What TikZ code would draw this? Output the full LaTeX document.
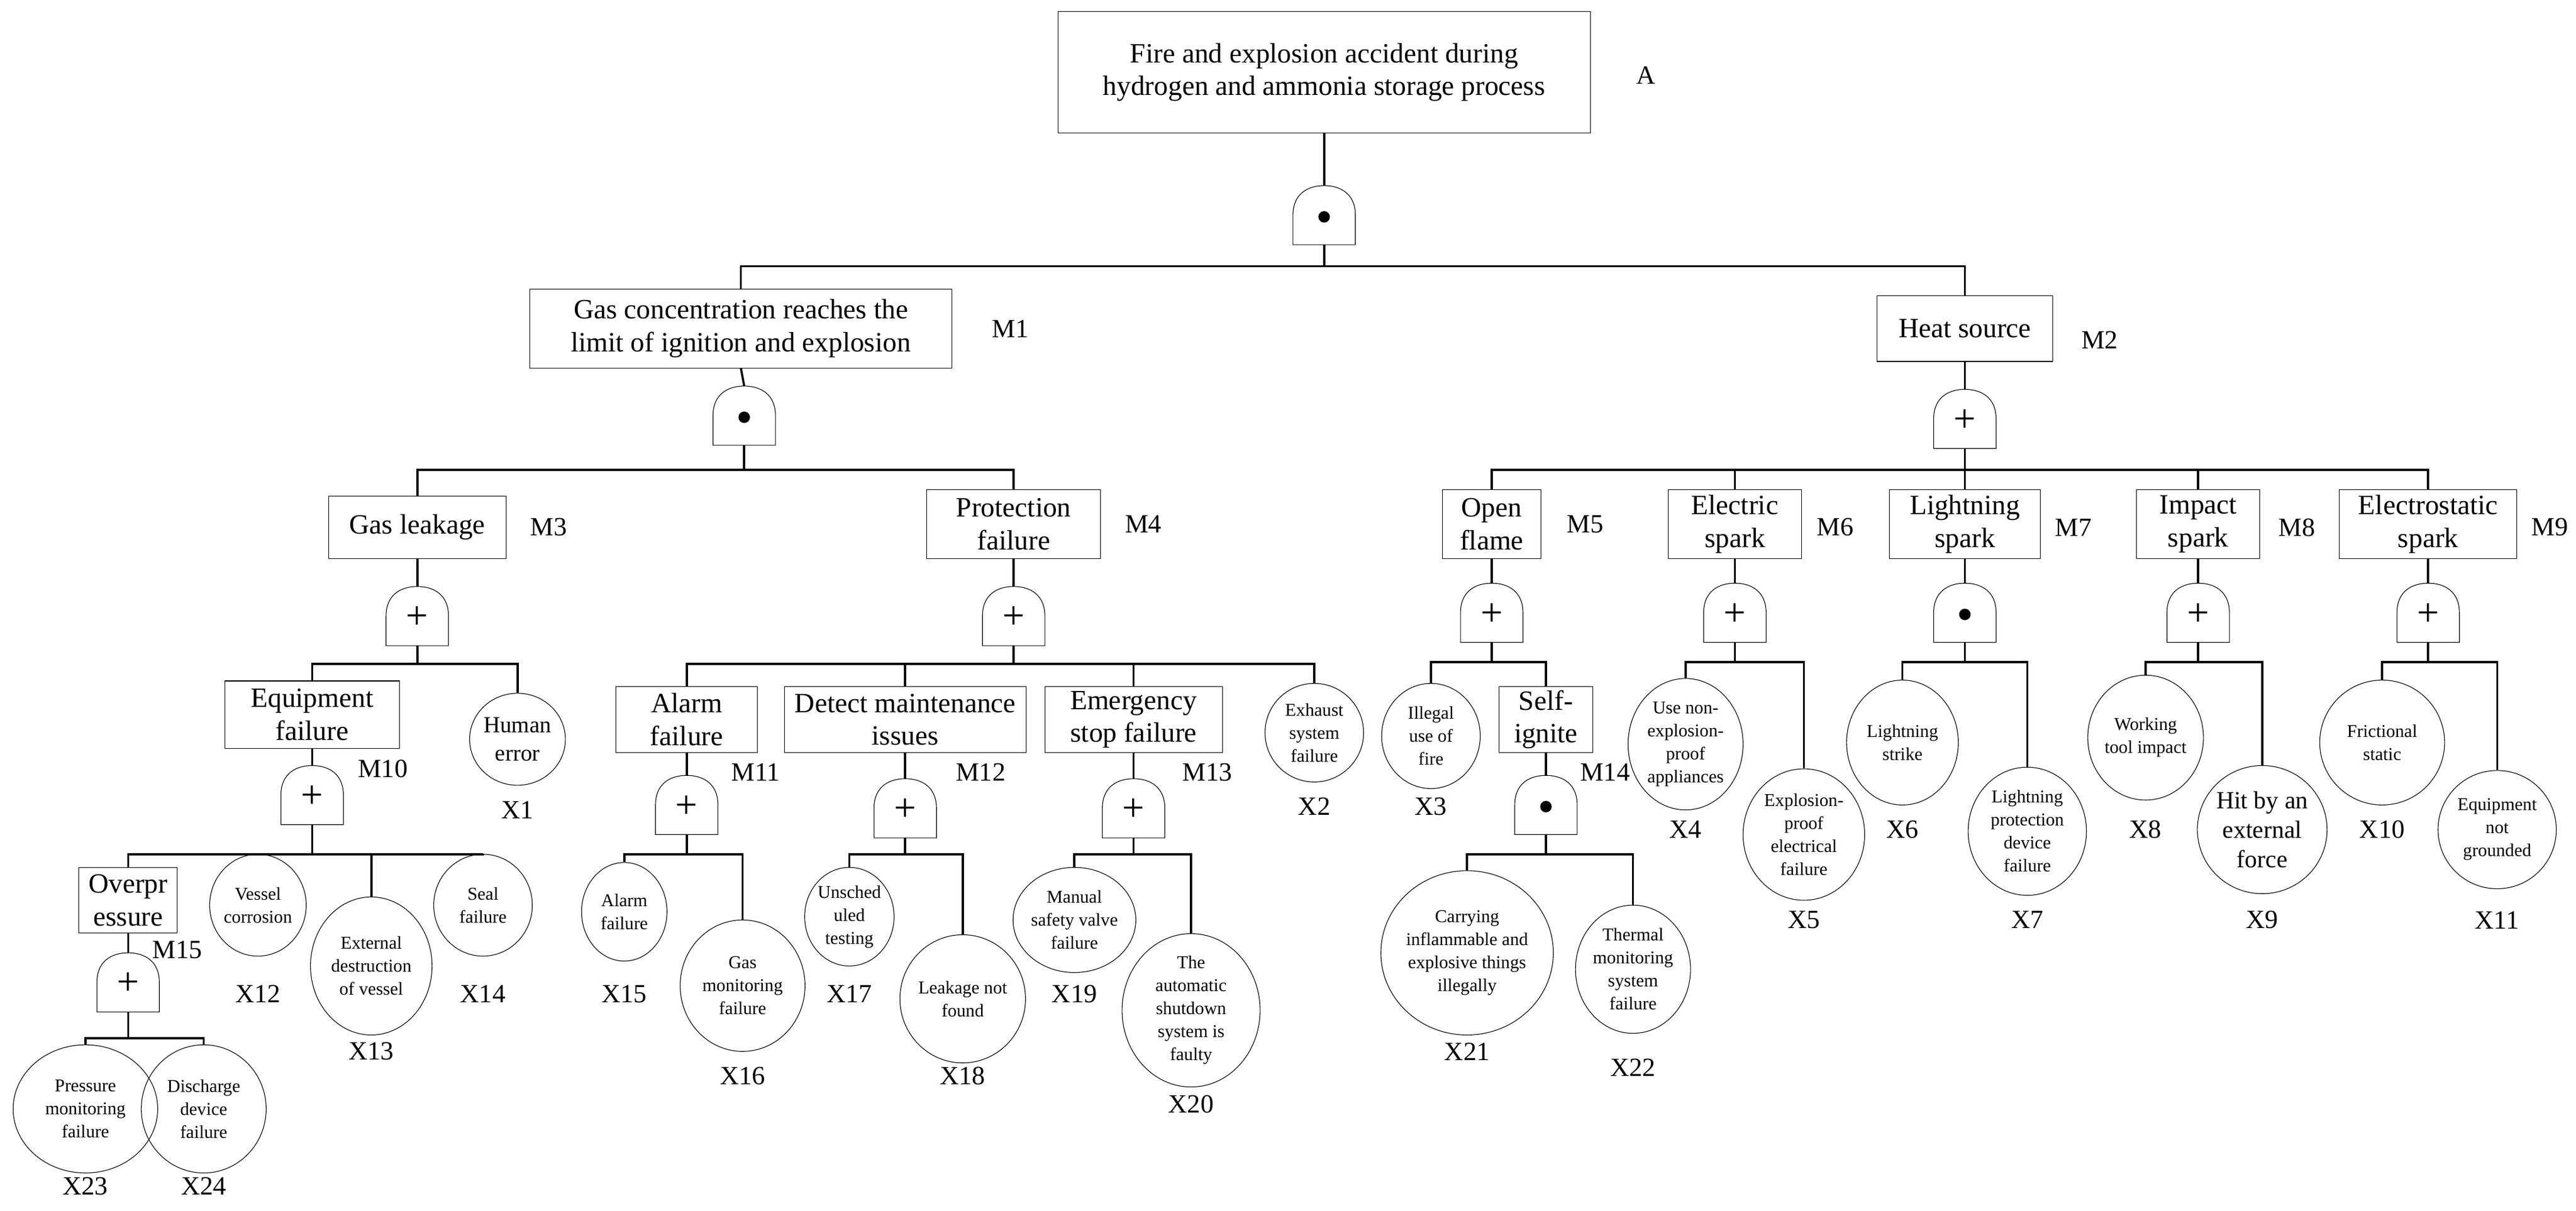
\documentclass[tikz,border=0pt]{standalone}
\usepackage{fontspec}
\setmainfont{Liberation Serif}
\usetikzlibrary{shapes.geometric}

\tikzset{
  event/.style={rectangle,draw,thin,align=center,inner sep=2pt,font=\fontsize{17}{20}\selectfont},
  basic/.style={ellipse,draw,thin,align=center,inner sep=0pt,font=\fontsize{11}{14}\selectfont},
  tag/.style={font=\fontsize{16}{18}\selectfont},
  link/.style={line width=1.3pt},
  gate line/.style={thin}
}
% gate outline: name, x, top y
\newcommand\gateshape[3]{%
  \draw[gate line] (#2-19,#3+36) -- (#2-19,#3+18) .. controls (#2-19,#3+5) and (#2-10,#3) .. (#2,#3)
    .. controls (#2+10,#3) and (#2+19,#3+5) .. (#2+19,#3+18) -- (#2+19,#3+36) -- cycle;
  \coordinate (#1) at (#2,#3);
  \coordinate (#1b) at (#2,#3+36);}
\newcommand\andgate[3]{\gateshape{#1}{#2}{#3}\fill (#2,#3+19) circle (3.5);}
\newcommand\orgate[3]{\gateshape{#1}{#2}{#3}\node[font=\fontsize{24}{24}\selectfont] at (#2,#3+19) {+};}

\begin{document}
\begin{tikzpicture}[x=1pt,y=-1pt]
  \useasboundingbox (0,0) rectangle (1568,737);
  % top event
  \node[event,minimum width=324,minimum height=74] (A) at (806,44) {Fire and explosion accident during\\hydrogen and ammonia storage process};
  \node[tag] (tA) at (1002,46) {A};
  \andgate{g0}{806}{113}
  % second level
  \node[event,minimum width=257,minimum height=48] (M1) at (451,200) {Gas concentration reaches the\\limit of ignition and explosion};
  \node[tag] (tM1) at (615,200) {M1};
  \node[event,minimum width=107,minimum height=40] (M2) at (1196,200) {Heat source};
  \node[tag] (tM2) at (1278,207) {M2};
  \andgate{g1}{453}{235}
  \orgate{g2}{1196}{237}
  % third level
  \node[event,minimum width=108,minimum height=38] (M3) at (254,321) {Gas leakage};
  \node[tag] (tM3) at (334,321) {M3};
  \node[event,minimum width=106,minimum height=42] (M4) at (617,319) {Protection\\failure};
  \node[tag] (tM4) at (696,319) {M4};
  \node[event,minimum width=60,minimum height=42] (M5) at (908,319) {Open\\flame};
  \node[tag] (tM5) at (965,319) {M5};
  \node[event,minimum width=81,minimum height=42] (M6) at (1056,319) {Electric\\spark};
  \node[tag] (tM6) at (1117,321) {M6};
  \node[event,minimum width=92,minimum height=42] (M7) at (1196,319) {Lightning\\spark};
  \node[tag] (tM7) at (1262,321) {M7};
  \node[event,minimum width=75,minimum height=42] (M8) at (1338,319) {Impact\\spark};
  \node[tag] (tM8) at (1398,321) {M8};
  \node[event,minimum width=108,minimum height=42] (M9) at (1478,319) {Electrostatic\\spark};
  \node[tag] (tM9) at (1552,321) {M9};
  \orgate{g3}{254}{357}
  \orgate{g4}{617}{357}
  \orgate{g5}{908}{355}
  \orgate{g6}{1056}{355}
  \andgate{g7}{1196}{355}
  \orgate{g8}{1338}{355}
  \orgate{g9}{1478}{355}
  % fourth level, left
  \node[event,minimum width=106,minimum height=41] (M10) at (190,435) {Equipment\\failure};
  \node[tag] (tM10) at (233,468) {M10};
  \node[basic,minimum width=54,minimum height=56,font=\fontsize{14}{17}\selectfont] (X1) at (315,450) {Human\\error};
  \node[tag] (tX1) at (315,493) {X1};
  \orgate{g10}{190}{466}
  \node[event,minimum width=60,minimum height=40] (M15) at (78,548) {Overpr\\essure};
  \node[tag] (tM15) at (108,578) {M15};
  \node[basic,minimum width=56,minimum height=62] (X12) at (157,551) {Vessel\\corrosion};
  \node[tag] (tX12) at (157,605) {X12};
  \node[basic,minimum width=74,minimum height=84] (X13) at (226,588) {External\\destruction\\of vessel};
  \node[tag] (tX13) at (226,640) {X13};
  \node[basic,minimum width=60,minimum height=62] (X14) at (294,551) {Seal\\failure};
  \node[tag] (tX14) at (294,605) {X14};
  \orgate{g15}{78}{580}
  \node[basic,minimum width=88,minimum height=78] (X23) at (52,675) {Pressure\\monitoring\\failure};
  \node[tag] (tX23) at (52,722) {X23};
  \node[basic,minimum width=76,minimum height=78] (X24) at (124,675) {Discharge\\device\\failure};
  \node[tag] (tX24) at (124,722) {X24};
  % fourth level, protection
  \node[event,minimum width=86,minimum height=40] (M11) at (418,438) {Alarm\\failure};
  \node[tag] (tM11) at (460,470) {M11};
  \node[event,minimum width=147,minimum height=40] (M12) at (551,438) {Detect maintenance\\issues};
  \node[tag] (tM12) at (597,470) {M12};
  \node[event,minimum width=108,minimum height=40] (M13) at (690,438) {Emergency\\stop failure};
  \node[tag] (tM13) at (735,470) {M13};
  \node[basic,minimum width=60,minimum height=60] (X2) at (800,446) {Exhaust\\system\\failure};
  \node[tag] (tX2) at (800,491) {X2};
  \orgate{g11}{418}{472}
  \orgate{g12}{551}{474}
  \orgate{g13}{690}{474}
  \node[basic,minimum width=52,minimum height=60] (X15) at (380,555) {Alarm\\failure};
  \node[tag] (tX15) at (380,605) {X15};
  \node[basic,minimum width=76,minimum height=80] (X16) at (452,600) {Gas\\monitoring\\failure};
  \node[tag] (tX16) at (452,655) {X16};
  \node[basic,minimum width=54,minimum height=60] (X17) at (517,558) {Unsched\\uled\\testing};
  \node[tag] (tX17) at (517,605) {X17};
  \node[basic,minimum width=76,minimum height=78] (X18) at (586,608) {Leakage not\\found};
  \node[tag] (tX18) at (586,655) {X18};
  \node[basic,minimum width=74,minimum height=64] (X19) at (654,560) {Manual\\safety valve\\failure};
  \node[tag] (tX19) at (654,605) {X19};
  \node[basic,minimum width=84,minimum height=90] (X20) at (725,615) {The\\automatic\\shutdown\\system is\\faulty};
  \node[tag] (tX20) at (725,672) {X20};
  % fourth level, heat source
  \node[basic,minimum width=60,minimum height=64] (X3) at (871,448) {Illegal\\use of\\fire};
  \node[tag] (tX3) at (871,491) {X3};
  \node[event,minimum width=57,minimum height=40] (M14) at (941,438) {Self-\\ignite};
  \node[tag] (tM14) at (977,470) {M14};
  \andgate{g14}{941}{472}
  \node[basic,minimum width=98,minimum height=100] (X21) at (893,580) {Carrying\\inflammable and\\explosive things\\illegally};
  \node[tag] (tX21) at (893,640) {X21};
  \node[basic,minimum width=70,minimum height=78] (X22) at (994,590) {Thermal\\monitoring\\system\\failure};
  \node[tag] (tX22) at (994,650) {X22};
  \node[basic,minimum width=70,minimum height=80] (X4) at (1026,453) {Use non-\\explosion-\\proof\\appliances};
  \node[tag] (tX4) at (1026,505) {X4};
  \node[basic,minimum width=74,minimum height=80] (X5) at (1098,508) {Explosion-\\proof\\electrical\\failure};
  \node[tag] (tX5) at (1098,560) {X5};
  \node[basic,minimum width=68,minimum height=76] (X6) at (1158,452) {Lightning\\strike};
  \node[tag] (tX6) at (1158,505) {X6};
  \node[basic,minimum width=72,minimum height=78] (X7) at (1234,506) {Lightning\\protection\\device\\failure};
  \node[tag] (tX7) at (1234,560) {X7};
  \node[basic,minimum width=70,minimum height=76] (X8) at (1306,449) {Working\\tool impact};
  \node[tag] (tX8) at (1306,505) {X8};
  \node[basic,minimum width=76,minimum height=78,font=\fontsize{15}{18}\selectfont] (X9) at (1377,505) {Hit by an\\external\\force};
  \node[tag] (tX9) at (1377,560) {X9};
  \node[basic,minimum width=76,minimum height=76] (X10) at (1450,452) {Frictional\\static};
  \node[tag] (tX10) at (1450,505) {X10};
  \node[basic,minimum width=72,minimum height=72] (X11) at (1520,505) {Equipment\\not\\grounded};
  \node[tag] (tX11) at (1520,560) {X11};

  % event to gate
  \foreach \from/\to in {A/g0,M1/g1,M2/g2,M3/g3,M4/g4,M5/g5,M6/g6,M7/g7,M8/g8,M9/g9,
              M10/g10,M11/g11,M12/g12,M13/g13,M14/g14,M15/g15}
    \draw[link] (\from.south) -- (\to);
  % gate to inputs
  \foreach \g/\h/\to in {g0/13/M1,g0/13/M2,g1/15/M3,g1/15/M4,
              g2/13/M5,g2/13/M6,g2/13/M7,g2/13/M8,g2/13/M9,
              g3/11/M10,g3/11/X1,g4/11/M11,g4/11/M12,g4/11/M13,g4/11/X2,
              g5/12/X3,g5/12/M14,g6/12/X4,g6/12/X5,g7/12/X6,g7/12/X7,
              g8/12/X8,g8/12/X9,g9/12/X10,g9/12/X11,
              g10/18/M15,g10/18/X12,g10/18/X13,g10/18/X14,
              g11/12/X15,g11/12/X16,g12/10/X17,g12/10/X18,g13/10/X19,g13/10/X20,
              g14/12/X21,g14/12/X22,g15/16/X23,g15/16/X24}
    \draw[link] (\g b) -- ++(0,\h) -| (\to.north);
\end{tikzpicture}
\end{document}
